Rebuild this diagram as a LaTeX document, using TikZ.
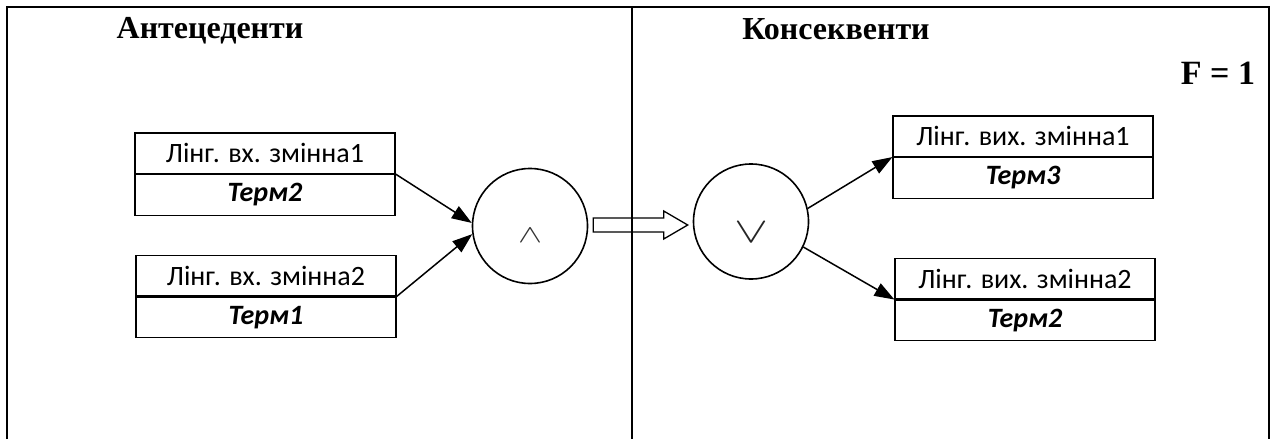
\documentclass[tikz,border=0pt]{standalone}
\usepackage{fontspec}
\setmainfont{Liberation Serif}
\newfontfamily\cellfont{Carlito}
\usetikzlibrary{arrows.meta,calc}

\begin{document}
\begin{tikzpicture}[x=1pt,y=-1pt,
  cell/.style={draw, line width=1.1pt, minimum width=260pt, minimum height=40.5pt,
    inner sep=0pt, font=\cellfont\fontsize{28}{28}\selectfont},
  termcell/.style={cell, font=\cellfont\bfseries\itshape\fontsize{28}{28}\selectfont},
  op/.style={circle, draw, line width=1.6pt, minimum size=115pt, inner sep=0pt},
  link/.style={line width=1.5pt, -{Triangle[length=20pt,width=14pt]}},
  title/.style={font=\bfseries\fontsize{32}{32}\selectfont, anchor=base},
  frame/.style={line width=1.3pt}]
\useasboundingbox (0,0) rectangle (1273,439);

% outer frame (open at the bottom) and the column divider
\draw[frame] (7,439) -- (7,7) -- (1269,7) -- (1269,439);
\draw[frame] (632,7) -- (632,439);

% column headings
\node[title] (ant) at (210,38) {Антецеденти};
\node[title] (cons) at (836,39) {Консеквенти};
\node[title, font=\bfseries\fontsize{34}{34}\selectfont] (fval) at (1218,84) {F = 1};

% input variables with their terms
\node[cell] (v1) at (265,153.25) {Лінг. вх. змінна1};
\node[termcell, anchor=north] (t1) at (v1.south) {Терм2};
\node[cell] (v2) at (266,275.75) {Лінг. вх. змінна2};
\node[termcell, anchor=north] (t2) at (v2.south) {Терм1};

% output variables with their terms
\node[cell] (v3) at (1023,136.25) {Лінг. вих. змінна1};
\node[termcell, anchor=north] (t3) at (v3.south) {Терм3};
\node[cell] (v4) at (1025,278.75) {Лінг. вих. змінна2};
\node[termcell, anchor=north] (t4) at (v4.south) {Терм2};

% conjunction and disjunction operators
\node[op] (and) at (530,226)
  {\raisebox{-16.5pt}[0pt][0pt]{\color{black!80}\resizebox{24pt}{14pt}{$\wedge$}}};
\node[op] (or) at (751,221.5)
  {\raisebox{-21pt}[0pt][0pt]{\color{black!85}\resizebox{34pt}{20pt}{$\vee$}}};

% connectors
\draw[link] (v1.south east) -- (and.177);
\draw[link] (v2.south east) -- (and.188);
\draw[link] (or.13) -- (v3.south west);
\draw[link] (or.-26) -- (v4.south west);

% hollow implication arrow between the operators
\coordinate (hs) at ($(and.east)+(5,-1)$);
\coordinate (he) at ($(or.west)+(-5,0)$);
\draw[line width=1.3pt] let \p1=(hs), \p2=(he) in
  (\x1,{\y1+7pt}) -- ({\x2-24pt},{\y1+7pt}) -- ({\x2-24pt},{\y1+14pt}) -- (\x2,\y1)
  -- ({\x2-24pt},{\y1-14pt}) -- ({\x2-24pt},{\y1-7pt}) -- (\x1,{\y1-7pt}) -- cycle;
\end{tikzpicture}
\end{document}
